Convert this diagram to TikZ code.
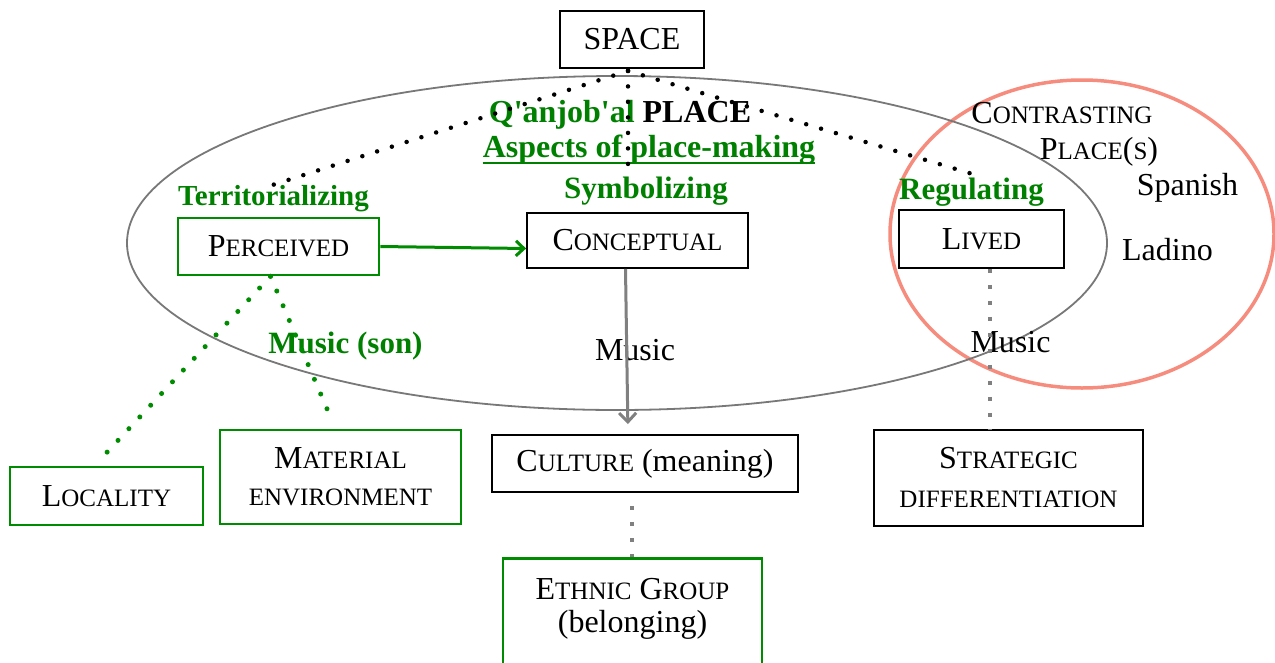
\documentclass[tikz,border=0pt]{standalone}
\usepackage{fontspec}
\setmainfont{Liberation Serif}
\usetikzlibrary{arrows.meta}
\definecolor{lgreen}{RGB}{0,128,0}
\definecolor{boxgreen}{RGB}{0,140,0}
\definecolor{salmon}{RGB}{246,140,125}
\definecolor{ringgray}{RGB}{120,120,120}
\definecolor{linkgray}{RGB}{128,128,128}
% small capitals built from reduced upper-case letters
\newcommand\lsc[1]{{\fontsize{25}{30}\selectfont #1}}

\begin{document}
\begin{tikzpicture}[x=1pt,y=-1pt,
  every node/.style={font=\fontsize{32}{38}\selectfont, inner sep=0pt},
  bbox/.style={draw=black, line width=1.8pt, align=center},
  gbox/.style={draw=boxgreen, line width=2.6pt, align=center},
  glabel/.style={text=lgreen, font=\fontsize{31}{36}\selectfont\bfseries, anchor=base},
  plain/.style={anchor=base},
  bdots/.style={black, line width=4.5pt, line cap=round, dash pattern=on 0pt off 15.5pt},
  gdots/.style={boxgreen, line width=5pt, line cap=round, dash pattern=on 0pt off 16pt},
  sdots/.style={linkgray, line width=4pt, dash pattern=on 4.5pt off 11.5pt},
  garrow/.style={boxgreen, line width=3pt, -{Straight Barb[length=8pt,width=15pt,line width=3pt]}},
  grayarrow/.style={linkgray, line width=3pt, -{Straight Barb[length=9pt,width=17pt,line width=3pt]}}]
\useasboundingbox (0,0) rectangle (1275,662);

% the two enclosing ovals
\draw[salmon, line width=3.5pt] (1082,234) ellipse [x radius=192pt, y radius=154pt];
\draw[ringgray, line width=1.8pt] (617,243) ellipse [x radius=490pt, y radius=167pt];

% boxes
\node[bbox, minimum width=144pt, minimum height=57pt] (space) at (632,39.5) {SPACE};
\node[gbox, minimum width=201pt, minimum height=57pt] (perc) at (278.5,246.5) {P\lsc{ERCEIVED}};
\node[bbox, minimum width=221pt, minimum height=55pt] (conc) at (637.5,240.5) {C\lsc{ONCEPTUAL}};
\node[bbox, minimum width=165pt, minimum height=58pt] (lived) at (981.5,239) {L\lsc{IVED}};
\node[gbox, minimum width=193pt, minimum height=58pt] (loc) at (106.5,496) {L\lsc{OCALITY}};
\node[gbox, minimum width=241pt, minimum height=94pt, font=\fontsize{32}{37}\selectfont] (mat) at (340.5,477) {M\lsc{ATERIAL}\\\lsc{ENVIRONMENT}};
\node[bbox, minimum width=306pt, minimum height=57pt] (cult) at (645,463.5) {C\lsc{ULTURE} (meaning)};
\node[gbox, minimum width=259pt, minimum height=122pt, anchor=north] (eth) at (632.5,557) {};
\node[align=center, font=\fontsize{32}{33}\selectfont] (ethtext) at (632.5,609) {E\lsc{THNIC} G\lsc{ROUP}\\(belonging)};
\node[bbox, minimum width=269pt, minimum height=96pt, font=\fontsize{32}{39}\selectfont] (strat) at (1008.5,478) {S\lsc{TRATEGIC}\\\lsc{DIFFERENTIATION}};

% headings and labels
\node[glabel, font=\fontsize{32}{36}\selectfont\bfseries] (qan) at (620,122) {Q\textquotesingle anjob\textquotesingle al \textcolor{black}{PLACE}};
\node[glabel, font=\fontsize{32}{36}\selectfont\bfseries] (asp) at (649,157) {Aspects of place-making};
\draw[lgreen, line width=1.6pt] ([yshift=-6pt]asp.base west) -- ([yshift=-6pt]asp.base east);
\node[glabel] (symb) at (646,198) {Symbolizing};
\node[glabel, font=\fontsize{29}{34}\selectfont\bfseries] (terr) at (273.5,205) {Territorializing};
\node[glabel] (reg) at (971.5,199) {Regulating};
\node[glabel] (son) at (345.5,353) {Music (son)};
\node[plain] (m1) at (635,360) {Music};
\node[plain] (m2) at (1010.5,352) {Music};
\node[plain] (contr) at (1062,123) {C\lsc{ONTRASTING}};
\node[plain] (plc) at (1099,159) {P\lsc{LACE}(\lsc{S})};
\node[plain] (spa) at (1187.5,195) {Spanish};
\node[plain] (lad) at (1167.5,260) {Ladino};

% connectors
\draw[garrow] (perc.east) -- ([yshift=-8pt]conc.west);
\draw[grayarrow, shorten >=10pt] ([xshift=-12pt]conc.south) -- ([xshift=-17pt]cult.north);

\coordinate (hub) at ([xshift=-4pt,yshift=-2pt]space.south);
\draw[bdots] (hub) -- (terr.north);
\draw[bdots, shorten >=8pt] (hub) -- (hub |- symb.north);
\draw[bdots] (hub) -- ([xshift=12pt]reg.north);

\draw[gdots, shorten >=10pt] ([xshift=-8pt]perc.south) -- ([xshift=-12pt]loc.north);
\draw[gdots, shorten >=6pt] ([xshift=-8pt]perc.south) -- ([xshift=-5pt]mat.north);

\draw[sdots] ([xshift=8.5pt]lived.south) -- ([xshift=-18.5pt]strat.north);
\draw[sdots, shorten <=13pt] ([xshift=-13pt]cult.south) -- ([xshift=-0.5pt]eth.north);
\end{tikzpicture}
\end{document}
